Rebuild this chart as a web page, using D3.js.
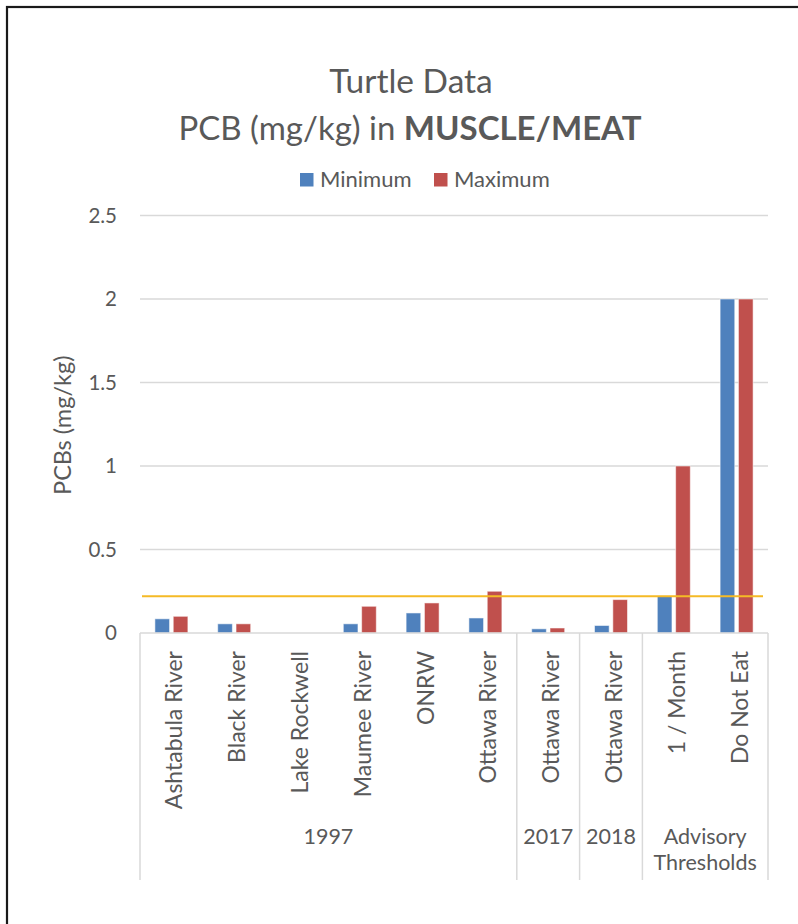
<!DOCTYPE html>
<html>
<head>
<meta charset="utf-8">
<script src="https://cdn.jsdelivr.net/npm/d3@7/dist/d3.min.js"></script>
<style>
  html, body { margin: 0; padding: 0; background: #fff; }
  svg { display: block; }
  text { font-family: Lato, "Open Sans", "Noto Sans", sans-serif; fill: #595959; }
</style>
</head>
<body>
<svg id="chart" width="798" height="924"></svg>
<script>
// ---- data ----
const categories = ["Ashtabula River", "Black River", "Lake Rockwell", "Maumee River", "ONRW",
                    "Ottawa River", "Ottawa River", "Ottawa River", "1 / Month", "Do Not Eat"];
const groups = [
  { label: ["1997"], start: 0, end: 6 },
  { label: ["2017"], start: 6, end: 7 },
  { label: ["2018"], start: 7, end: 8 },
  { label: ["Advisory", "Thresholds"], start: 8, end: 10 }
];
const seriesNames = ["Minimum", "Maximum"];
const minimumValues = [0.085, 0.055, null, 0.055, 0.12, 0.09, 0.025, 0.045, 0.22, 2];
const maximumValues = [0.1, 0.055, null, 0.16, 0.18, 0.25, 0.03, 0.2, 1, 2];
const thresholdValue = 0.22;
const yTicks = [0, 0.5, 1, 1.5, 2, 2.5];
const yTickLabels = ["0", "0.5", "1", "1.5", "2", "2.5"];
const colors = ["#4F81BD", "#C0504D"];

// ---- layout ----
const svg = d3.select("#chart");
const plot = { left: 140, right: 768, top: 215.5, bottom: 633 };

// chart border
svg.append("rect").attr("x", 7).attr("y", 7).attr("width", 820).attr("height", 940)
  .attr("fill", "none").attr("stroke", "#1a1a1a").attr("stroke-width", 2.2);

const x = d3.scaleBand().domain(d3.range(categories.length))
  .range([plot.left, plot.right]).paddingInner(0).paddingOuter(0);
const y = d3.scaleLinear().domain([0, 2.5]).range([plot.bottom, plot.top]);
const xSub = d3.scaleBand().domain(seriesNames).range([-16.5, 16.5]).paddingInner(0.2);

// gridlines
svg.append("g").selectAll("line").data(yTicks.filter(d => d > 0)).join("line")
  .attr("x1", plot.left).attr("x2", plot.right)
  .attr("y1", d => y(d)).attr("y2", d => y(d))
  .attr("stroke", "#d9d9d9").attr("stroke-width", 1.5);

// y axis labels
svg.append("g").selectAll("text").data(yTicks).join("text")
  .attr("x", 117).attr("y", d => y(d)).attr("dy", "0.36em")
  .attr("text-anchor", "end").attr("font-size", 20.5)
  .text((d, i) => yTickLabels[i]);

// y axis title
svg.append("text")
  .attr("transform", `translate(71,${(plot.top + plot.bottom) / 2 + 1}) rotate(-90)`)
  .attr("text-anchor", "middle").attr("font-size", 23.5)
  .text("PCBs (mg/kg)");

// bars
const seriesData = [minimumValues, maximumValues];
seriesData.forEach((vals, si) => {
  svg.append("g").selectAll("rect")
    .data(vals.map((v, i) => ({ v, i })).filter(d => d.v !== null && d.v > 0))
    .join("rect")
    .attr("x", d => x(d.i) + x.bandwidth() / 2 + xSub(seriesNames[si]))
    .attr("width", xSub.bandwidth())
    .attr("y", d => y(d.v))
    .attr("height", d => y(0) - y(d.v))
    .attr("fill", colors[si])
    .attr("stroke", "rgba(255,255,255,0.55)").attr("stroke-width", 1);
});

// x axis line
svg.append("line").attr("x1", plot.left).attr("x2", plot.right)
  .attr("y1", y(0)).attr("y2", y(0)).attr("stroke", "#d9d9d9").attr("stroke-width", 1.5);

// group separators
const sepIdx = [0, ...groups.map(g => g.end)];
svg.append("g").selectAll("line").data(sepIdx).join("line")
  .attr("x1", d => d < categories.length ? x(d) : plot.right)
  .attr("x2", d => d < categories.length ? x(d) : plot.right)
  .attr("y1", y(0)).attr("y2", 880)
  .attr("stroke", "#d9d9d9").attr("stroke-width", 1.5);

// category labels
svg.append("g").selectAll("text").data(categories).join("text")
  .attr("transform", (d, i) => `translate(${x(i) + x.bandwidth() / 2 + 11},651) rotate(-90)`)
  .attr("text-anchor", "end").attr("font-size", 23)
  .text(d => d);

// group labels
groups.forEach(g => {
  const cx = (x(g.start) + (g.end < categories.length ? x(g.end) : plot.right)) / 2;
  g.label.forEach((t, li) => {
    svg.append("text").attr("x", cx).attr("y", 844 + li * 26)
      .attr("text-anchor", "middle").attr("font-size", 21.5).text(t);
  });
});

// threshold line
svg.append("line").attr("x1", plot.left + 2).attr("x2", 763)
  .attr("y1", y(thresholdValue)).attr("y2", y(thresholdValue))
  .attr("stroke", "#F5BA26").attr("stroke-width", 1.8);

// title
svg.append("text").attr("x", 411).attr("y", 93).attr("text-anchor", "middle")
  .attr("font-size", 33.5).text("Turtle Data");
const t2 = svg.append("text").attr("x", 410).attr("y", 140).attr("text-anchor", "middle")
  .attr("font-size", 33);
t2.append("tspan").text("PCB (mg/kg) in ");
t2.append("tspan").attr("font-weight", "bold").text("MUSCLE/MEAT");

// legend
const legendX = [300, 434];
seriesNames.forEach((s, i) => {
  svg.append("rect").attr("x", legendX[i]).attr("y", 173).attr("width", 13.5).attr("height", 13.5)
    .attr("fill", colors[i]);
  svg.append("text").attr("x", legendX[i] + 20).attr("y", 187).attr("font-size", 22).text(s);
});
</script>
</body>
</html>
